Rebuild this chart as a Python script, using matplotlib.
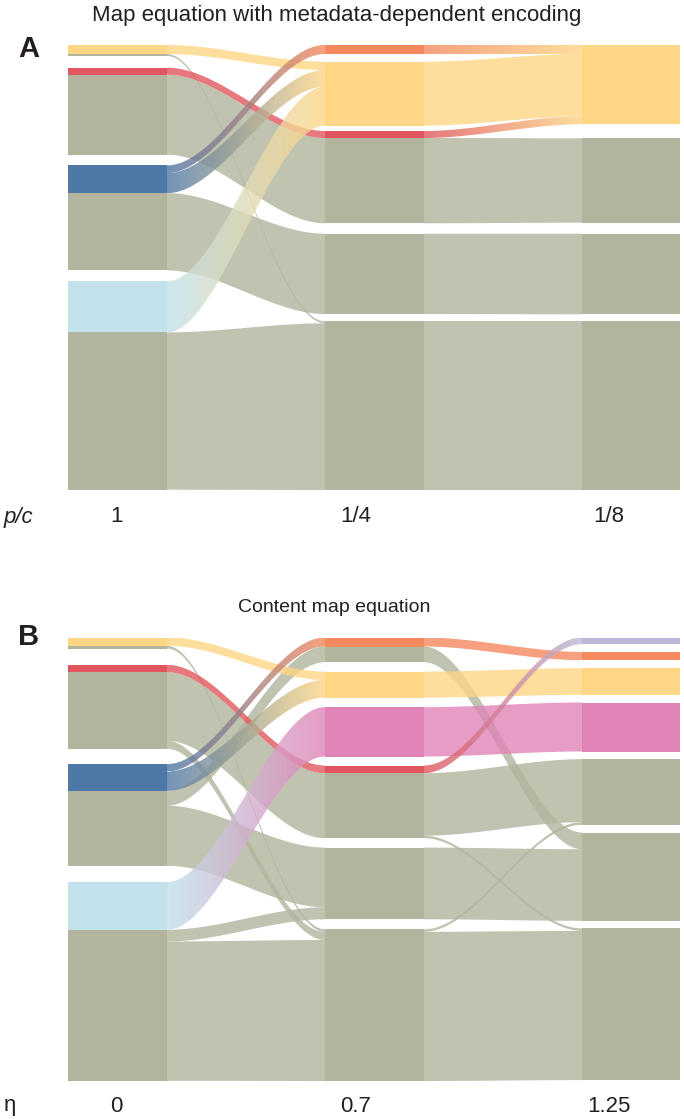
import numpy as np
import matplotlib
matplotlib.use('Agg')
import matplotlib.pyplot as plt
from matplotlib.patches import Polygon, Rectangle
from matplotlib.colors import to_rgb

plt.rcParams['font.family'] = ['Liberation Sans', 'DejaVu Sans']

palette = {
    'grey': '#b2b49e',
    'yellow': '#fed685',
    'red': '#e1565e',
    'blue': '#4e78a6',
    'lightblue': '#c2e1eb',
    'orange': '#f4895f',
    'pink': '#e084b7',
    'lavender': '#bcb8da',
}

# flows between neighbouring partitions:
# (module left, module right, flow at left, flow at right, group left, group right)
flows_a_1 = [
    (0, 1, 9.0, 8.3, 'yellow', 'yellow'),
    (0, 4, 2.0, 2.0, 'grey', 'grey'),
    (1, 2, 7.0, 7.0, 'red', 'red'),
    (1, 2, 80.0, 85.3, 'grey', 'grey'),
    (2, 0, 7.7, 9.0, 'blue', 'orange'),
    (2, 1, 20.0, 16.7, 'blue', 'yellow'),
    (2, 3, 77.3, 80.3, 'grey', 'grey'),
    (3, 1, 51.0, 39.0, 'lightblue', 'yellow'),
    (3, 4, 157.3, 166.7, 'grey', 'grey'),
]
flows_a_2 = [
    (0, 0, 9.0, 9.0, 'orange', 'yellow'),
    (1, 0, 64.0, 62.3, 'yellow', 'yellow'),
    (2, 0, 7.0, 8.0, 'red', 'yellow'),
    (2, 1, 85.3, 84.4, 'grey', 'grey'),
    (3, 2, 80.3, 80.6, 'grey', 'grey'),
    (4, 3, 168.7, 168.7, 'grey', 'grey'),
]
flows_b_1 = [
    (0, 1, 8.3, 8.3, 'yellow', 'yellow'),
    (0, 5, 2.7, 2.7, 'grey', 'grey'),
    (1, 3, 7.3, 7.7, 'red', 'red'),
    (1, 3, 68.7, 65.0, 'grey', 'grey'),
    (1, 5, 8.0, 8.0, 'grey', 'grey'),
    (2, 0, 7.4, 9.0, 'blue', 'orange'),
    (2, 1, 19.3, 17.7, 'blue', 'yellow'),
    (2, 0, 15.0, 15.7, 'grey', 'grey'),
    (2, 4, 60.0, 59.7, 'grey', 'grey'),
    (3, 2, 47.7, 49.3, 'lightblue', 'pink'),
    (3, 4, 11.7, 12.0, 'grey', 'grey'),
    (3, 5, 139.3, 141.0, 'grey', 'grey'),
]
flows_b_2 = [
    (0, 1, 9.0, 8.3, 'orange', 'orange'),
    (0, 5, 15.7, 16.7, 'grey', 'grey'),
    (1, 2, 26.0, 26.7, 'yellow', 'yellow'),
    (2, 3, 49.3, 49.0, 'pink', 'pink'),
    (3, 0, 7.7, 6.7, 'red', 'lavender'),
    (3, 4, 62.5, 63.0, 'grey', 'grey'),
    (3, 6, 2.5, 2.5, 'grey', 'grey'),
    (4, 5, 71.7, 71.6, 'grey', 'grey'),
    (5, 4, 2.5, 2.7, 'grey', 'grey'),
    (5, 6, 149.2, 149.2, 'grey', 'grey'),
]

labels_a = ['1', '1/4', '1/8']
labels_b = ['0', '0.7', '1.25']

# layout (pixels)
gaps_a = [[11.7, 10.7, 11.0], [7.7, 5.3, 10.4, 7.3], [14.0, 11.0, 7.0]]
gaps_b = [[16.3, 15.3, 16.3], [9.4, 9.6, 9.0, 9.4, 10.0], [7.7, 8.0, 7.6, 7.7, 7.6, 7.6]]
col_x = [0, 257, 514]
node_w = 99
label_x = [48, 288, 541]
ALPHA = 0.8
TXT = '#231f20'


def tops(heights, gaps):
    out, y = [], 0.0
    for i, h in enumerate(heights):
        out.append(y)
        y += h + (gaps[i] if i < len(gaps) else 0)
    return out


def place(flows, gaps_left, gaps_right):
    nl = max(f[0] for f in flows) + 1
    nr = max(f[1] for f in flows) + 1
    hl, hr = np.zeros(nl), np.zeros(nr)
    for f in flows:
        hl[f[0]] += f[2]
        hr[f[1]] += f[3]
    cur_l = tops(hl, gaps_left)
    cur_r = tops(hr, gaps_right)
    left, right = [None] * len(flows), [None] * len(flows)
    for i, f in enumerate(flows):
        left[i] = (cur_l[f[0]], cur_l[f[0]] + f[2])
        cur_l[f[0]] += f[2]
    for i in sorted(range(len(flows)), key=lambda k: (flows[k][0], k)):
        f = flows[i]
        right[i] = (cur_r[f[1]], cur_r[f[1]] + f[3])
        cur_r[f[1]] += f[3]
    return left, right


def ribbon(ax, x0, x1, a, b, c0, c1):
    xs = np.linspace(x0, x1, 100)
    s = (xs - x0) / (x1 - x0)
    s = 3 * s ** 2 - 2 * s ** 3
    top = a[0] + (b[0] - a[0]) * s
    bot = a[1] + (b[1] - a[1]) * s
    verts = np.vstack([np.column_stack([xs, top]), np.column_stack([xs[::-1], bot[::-1]])])
    if c0 == c1:
        ax.add_patch(Polygon(verts, closed=True, fc=palette[c0], ec='none', alpha=ALPHA))
        return
    poly = Polygon(verts, closed=True, fc='none', ec='none')
    ax.add_patch(poly)
    g = np.linspace(0, 1, 256)[:, None]
    rgb = (1 - g) * np.array(to_rgb(palette[c0])) + g * np.array(to_rgb(palette[c1]))
    im = ax.imshow(rgb[None, :, :], extent=(x0, x1, max(bot.max(), top.max()), min(bot.min(), top.min())),
                   aspect='auto', alpha=ALPHA, interpolation='bilinear', zorder=2)
    im.set_clip_path(poly)


def draw_panel(ax, flows1, flows2, gaps):
    l1, r1 = place(flows1, gaps[0], gaps[1])
    l2, r2 = place(flows2, gaps[1], gaps[2])
    # grey streams first, coloured on top
    for flows, left, right, c in ((flows1, l1, r1, 0), (flows2, l2, r2, 1)):
        order = sorted(range(len(flows)), key=lambda k: flows[k][4] != 'grey' or flows[k][5] != 'grey')
        for i in order:
            f = flows[i]
            ribbon(ax, col_x[c] + node_w, col_x[c + 1], left[i], right[i], f[4], f[5])
    # modules
    segs = [[(l1[i], f[4]) for i, f in enumerate(flows1)],
            [(l2[i], f[4]) for i, f in enumerate(flows2)],
            [(r2[i], f[5]) for i, f in enumerate(flows2)]]
    bottom = 0
    for c, col in enumerate(segs):
        for (y0, y1), grp in col:
            ax.add_patch(Rectangle((col_x[c], y0), node_w, y1 - y0, fc=palette[grp], ec='none', zorder=3))
            bottom = max(bottom, y1)
    ax.set_xlim(0, 612)
    ax.set_ylim(bottom, 0)
    ax.axis('off')


fig = plt.figure(figsize=(6.84, 11.19), dpi=100)
W, H = 684, 1119
ax_a = fig.add_axes([68 / W, 1 - 490 / H, 612 / W, 445 / H])
ax_b = fig.add_axes([68 / W, 1 - 1081 / H, 612 / W, 443.5 / H])
draw_panel(ax_a, flows_a_1, flows_a_2, gaps_a)
draw_panel(ax_b, flows_b_1, flows_b_2, gaps_b)

fig.text(337 / W, 1 - 15 / H, 'Map equation with metadata-dependent encoding',
         ha='center', va='center', fontsize=16, color=TXT)
fig.text(334 / W, 1 - 607 / H, 'Content map equation',
         ha='center', va='center', fontsize=14, color=TXT)
fig.text(29 / W, 1 - 49 / H, 'A', ha='center', va='center', fontsize=21, fontweight='bold', color=TXT)
fig.text(29 / W, 1 - 637 / H, 'B', ha='center', va='center', fontsize=21, fontweight='bold', color=TXT)
fig.text(4 / W, 1 - 517 / H, 'p/c', ha='left', va='center', fontsize=16, style='italic', color=TXT)
fig.text(4 / W, 1 - 1106 / H, 'η', ha='left', va='center', fontsize=16, color=TXT)
for xx, lab in zip(label_x, labels_a):
    fig.text((68 + xx) / W, 1 - 517 / H, lab, ha='center', va='center', fontsize=16, color=TXT)
for xx, lab in zip(label_x, labels_b):
    fig.text((68 + xx) / W, 1 - 1106 / H, lab, ha='center', va='center', fontsize=16, color=TXT)

fig.savefig('out.png', dpi=100)
